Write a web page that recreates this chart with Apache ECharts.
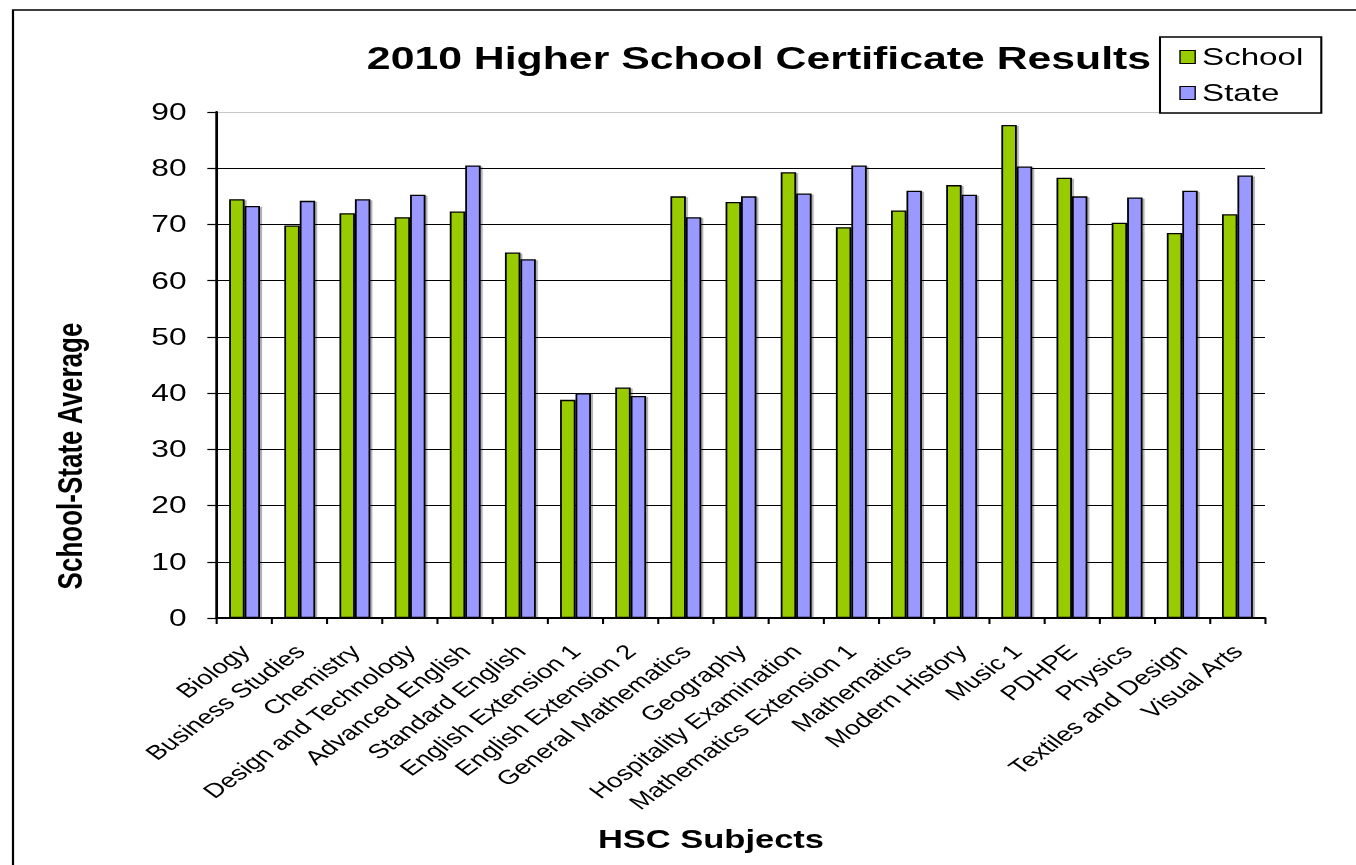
<!DOCTYPE html>
<html>
<head>
<meta charset="utf-8">
<title>2010 Higher School Certificate Results</title>
<script src="https://cdn.jsdelivr.net/npm/echarts@6/dist/echarts.min.js"></script>
<style>
  html, body { margin: 0; padding: 0; background: #fff; overflow: hidden; }
  #wrap { width: 1356px; height: 865px; overflow: hidden; position: relative; }
  #chart { position: absolute; left: 0; top: 0; height: 865px; transform-origin: 0 0; }
</style>
</head>
<body>
<div id="wrap"><div id="chart"></div></div>
<script>
// HSC subjects and averages
const subjects = [
  'Biology', 'Business Studies', 'Chemistry', 'Design and Technology',
  'Advanced English', 'Standard English', 'English Extension 1', 'English Extension 2',
  'General Mathematics', 'Geography', 'Hospitality Examination', 'Mathematics Extension 1',
  'Mathematics', 'Modern History', 'Music 1', 'PDHPE', 'Physics',
  'Textiles and Design', 'Visual Arts'
];
const schoolAvg = [74.5, 69.8, 72.0, 71.3, 72.3, 65.0, 38.8, 41.0, 75.0, 74.0, 79.3, 69.5, 72.5, 77.0, 87.7, 78.3, 70.3, 68.5, 71.8];
const stateAvg  = [73.3, 74.2, 74.5, 75.3, 80.5, 63.8, 40.0, 39.5, 71.3, 75.0, 75.5, 80.5, 76.0, 75.3, 80.3, 75.0, 74.8, 76.0, 78.7];
const yTicks = { min: 0, max: 90, interval: 10 };

// The chart is laid out in a narrower frame and widened horizontally.
const SX = 1.38;
const W = 1356 / SX;
const el = document.getElementById('chart');
el.style.width = W + 'px';
el.style.transform = 'scaleX(' + SX + ')';

const chart = echarts.init(el, null, { renderer: 'svg', width: W, height: 865 });

const font = '"Liberation Sans", Arial, sans-serif';
const gridColors = [];
for (let v = yTicks.min; v <= yTicks.max; v += yTicks.interval) {
  gridColors.push(v === yTicks.max ? '#c8c8c8' : '#000');
}

const barStyle = (color) => ({
  color: color,
  borderColor: '#000',
  borderWidth: 1.3,
  shadowColor: 'rgba(0,0,0,0.3)',
  shadowOffsetX: 1.5,
  shadowOffsetY: 1,
  shadowBlur: 1
});

chart.setOption({
  backgroundColor: '#fff',
  animation: false,
  textStyle: { fontFamily: font },
  grid: { left: 217 / SX, right: W - 1265 / SX, top: 112, bottom: 865 - 618, containLabel: false },
  legend: {
    orient: 'vertical',
    left: 1160 / SX,
    top: 37,
    padding: [8, 13, 8, 14],
    itemGap: 12,
    itemWidth: 11,
    itemHeight: 13,
    itemStyle: { borderColor: '#000', borderWidth: 1 },
    borderColor: '#000',
    borderWidth: 1.5,
    backgroundColor: '#fff',
    icon: 'rect',
    textStyle: { fontSize: 24, color: '#000', fontFamily: font },
    data: ['School', 'State']
  },
  xAxis: {
    type: 'category',
    data: subjects,
    boundaryGap: true,
    axisLine: { lineStyle: { color: '#000', width: 2 } },
    axisTick: { show: true, length: 6, lineStyle: { color: '#000', width: 1.5 } },
    axisLabel: {
      rotate: 45,
      interval: 0,
      margin: 30,
      fontSize: 20,
      color: '#000',
      fontFamily: font
    },
    splitLine: { show: false }
  },
  yAxis: {
    type: 'value',
    min: yTicks.min,
    max: yTicks.max,
    interval: yTicks.interval,
    axisLine: { show: true, lineStyle: { color: '#000', width: 2 } },
    axisTick: { show: true, length: 7, lineStyle: { color: '#000', width: 1.2 } },
    axisLabel: { margin: 22, fontSize: 23, color: '#000', fontFamily: font },
    splitLine: { show: true, lineStyle: { color: gridColors, width: 1 } }
  },
  series: [
    {
      name: 'School',
      type: 'bar',
      data: schoolAvg,
      barGap: '0%',
      barCategoryGap: '44%',
      itemStyle: barStyle('#99cc00')
    },
    {
      name: 'State',
      type: 'bar',
      data: stateAvg,
      barGap: '0%',
      barCategoryGap: '44%',
      itemStyle: barStyle('#9999ff')
    }
  ],
  graphic: [
    {
      type: 'rect',
      silent: true,
      z: -1,
      shape: { x: 13 / SX, y: 10, width: W + 20, height: 900 },
      style: { fill: 'none', stroke: '#000', lineWidth: 1.6 }
    },
    {
      type: 'text',
      silent: true,
      style: {
        text: '2010 Higher School Certificate Results',
        x: 759 / SX, y: 58,
        textAlign: 'center', textVerticalAlign: 'middle',
        fontSize: 31, fontWeight: 'bold', fontFamily: font, fill: '#000'
      }
    },
    {
      type: 'text',
      silent: true,
      x: 70 / SX, y: 456,
      rotation: Math.PI / 2,
      style: {
        text: 'School-State Average',
        x: 0, y: 0,
        textAlign: 'center', textVerticalAlign: 'middle',
        fontSize: 26, fontWeight: 'bold', fontFamily: font, fill: '#000'
      }
    },
    {
      type: 'text',
      silent: true,
      style: {
        text: 'HSC Subjects',
        x: 711 / SX, y: 839,
        textAlign: 'center', textVerticalAlign: 'middle',
        fontSize: 25, fontWeight: 'bold', fontFamily: font, fill: '#000'
      }
    }
  ]
});
</script>
</body>
</html>
